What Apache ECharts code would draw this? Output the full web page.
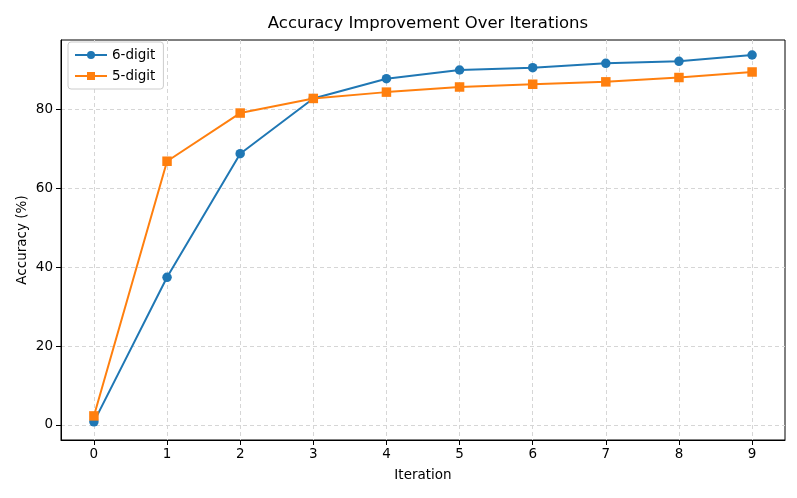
<!DOCTYPE html>
<html>
<head>
<meta charset="utf-8">
<script src="https://cdn.jsdelivr.net/npm/echarts@6/dist/echarts.min.js"></script>
<style>html,body{margin:0;padding:0;background:#fff}#c{width:797px;height:498px}</style>
</head>
<body>
<div id="c"></div>
<script>
const iterations = [0, 1, 2, 3, 4, 5, 6, 7, 8, 9];
const sixDigit = [0.8, 37.4, 68.7, 82.7, 87.7, 89.9, 90.5, 91.6, 92.1, 93.7];
const fiveDigit = [2.3, 66.8, 79.0, 82.7, 84.3, 85.6, 86.3, 86.9, 88.0, 89.4];
const yTicks = [0, 20, 40, 60, 80];

const font = 'DejaVu Sans';
const chart = echarts.init(document.getElementById('c'), null, {renderer: 'canvas'});
const gridLine = {show: true, lineStyle: {color: '#d6d6d6', type: [4, 3], width: 1}};
chart.setOption({
  animation: false,
  title: {
    text: 'Accuracy Improvement Over Iterations',
    left: 423, top: 10, textAlign: 'center',
    textStyle: {fontFamily: font, fontSize: 16.5, fontWeight: 'normal', color: '#000'}
  },
  legend: {
    orient: 'vertical', left: 68, top: 42,
    backgroundColor: '#fff', borderColor: '#ccc', borderWidth: 1, borderRadius: 3,
    padding: [6, 8, 6, 6], itemGap: 7, itemWidth: 32, itemHeight: 10,
    textStyle: {fontFamily: font, fontSize: 13.5, color: '#000'},
    data: ['6-digit', '5-digit']
  },
  grid: {left: 61, right: 12, top: 40, bottom: 58, show: true, borderColor: '#000', borderWidth: 1},
  xAxis: {
    type: 'value', min: -0.45, max: 9.45,
    name: 'Iteration', nameLocation: 'middle', nameGap: 28,
    nameTextStyle: {fontFamily: font, fontSize: 13.5, color: '#000'},
    axisLine: {show: true, onZero: false, lineStyle: {color: '#000'}},
    axisTick: {show: true, length: 5, lineStyle: {color: '#000'}, customValues: iterations},
    axisLabel: {fontFamily: font, fontSize: 13.5, color: '#000', margin: 7, customValues: iterations},
    splitLine: gridLine
  },
  yAxis: {
    type: 'value', min: -3.8, max: 97.5,
    name: 'Accuracy (%)', nameLocation: 'middle', nameGap: 32, nameMoveOverlap: false,
    nameTextStyle: {fontFamily: font, fontSize: 13.5, color: '#000'},
    axisLine: {show: true, onZero: false, lineStyle: {color: '#000'}},
    axisTick: {show: true, length: 5, lineStyle: {color: '#000'}, customValues: yTicks},
    axisLabel: {fontFamily: font, fontSize: 13.5, color: '#000', margin: 8, customValues: yTicks},
    splitLine: gridLine
  },
  series: [
    {
      name: '6-digit', type: 'line', data: iterations.map((x, i) => [x, sixDigit[i]]),
      symbol: 'circle', symbolSize: 9.5, itemStyle: {color: '#1f77b4'},
      lineStyle: {color: '#1f77b4', width: 2}, z: 3
    },
    {
      name: '5-digit', type: 'line', data: iterations.map((x, i) => [x, fiveDigit[i]]),
      symbol: 'rect', symbolSize: 9.5, itemStyle: {color: '#ff7f0e'},
      lineStyle: {color: '#ff7f0e', width: 2}, z: 4
    }
  ]
});
</script>
</body>
</html>
